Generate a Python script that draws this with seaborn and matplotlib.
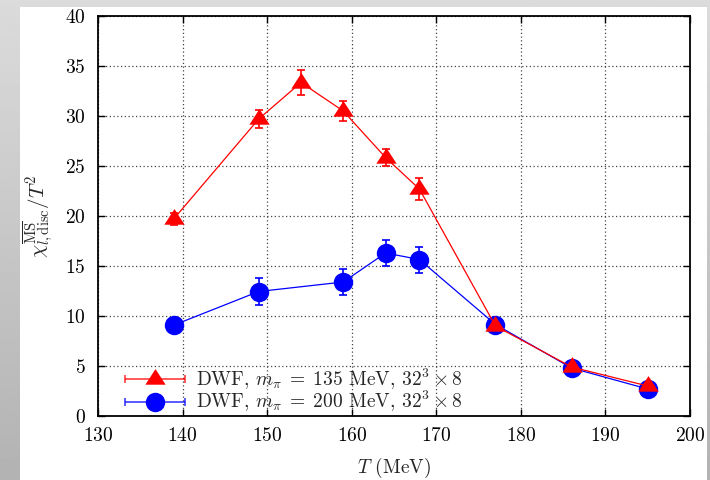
import numpy as np
import pandas as pd
import matplotlib
matplotlib.use("Agg")
import matplotlib.pyplot as plt
from matplotlib.path import Path
from matplotlib.container import ErrorbarContainer
from matplotlib.legend_handler import HandlerErrorbar
from matplotlib.patches import Rectangle
import seaborn as sns

# ---- data ----
T_135 = [139, 149, 154, 159, 164, 168, 177, 186, 195]
chi_135 = [19.75, 29.7, 33.35, 30.5, 25.85, 22.7, 9.0, 4.9, 3.0]
err_135 = [0.6, 0.9, 1.25, 1.0, 0.9, 1.1, 0.3, 0.3, 0.3]

T_200 = [139, 149, 159, 164, 168, 177, 186, 195]
chi_200 = [9.1, 12.45, 13.4, 16.3, 15.65, 9.15, 4.8, 2.7]
err_200 = [0.6, 1.35, 1.3, 1.3, 1.3, 0.4, 0.3, 0.3]

label_135 = r"DWF, $m_\pi\;=\;135$ MeV, $32^3\times8$"
label_200 = r"DWF, $m_\pi\;=\;200$ MeV, $32^3\times8$"
x_ticks = [130, 140, 150, 160, 170, 180, 190, 200]
y_ticks = [0, 5, 10, 15, 20, 25, 30, 35, 40]

df135 = pd.DataFrame({"T": T_135, "chi": chi_135, "err": err_135})
df200 = pd.DataFrame({"T": T_200, "chi": chi_200, "err": err_200})

sns.set_theme(style="ticks")
plt.rcParams["font.family"] = ["cmr10", "DejaVu Serif"]
plt.rcParams["mathtext.fontset"] = "cm"
plt.rcParams["axes.formatter.use_mathtext"] = True

fig = plt.figure(figsize=(7.1, 4.8), dpi=100)

# background frame (grey gradient with white page)
bg = fig.add_axes([0, 0, 1, 1], zorder=-10)
grad = np.linspace(0.86, 0.70, 256).reshape(-1, 1)
bg.imshow(grad, aspect="auto", cmap="gray", vmin=0, vmax=1, extent=[0, 1, 0, 1])
bg.add_patch(Rectangle((20 / 710, 0), (707 - 20) / 710, 473 / 480,
                       facecolor="white", edgecolor="none"))
bg.set_xlim(0, 1)
bg.set_ylim(0, 1)
bg.axis("off")

ax = fig.add_axes([98 / 710, 64 / 480, 592 / 710, 400 / 480])
ax.set_facecolor("white")

tri = Path([(0, 1.0), (-0.975, -0.5), (0.975, -0.5), (0, 1.0)],
           [Path.MOVETO, Path.LINETO, Path.LINETO, Path.CLOSEPOLY])

TRI_MS = 15
CIR_MS = 14

# blue series first (underneath)
sns.lineplot(data=df200, x="T", y="chi", ax=ax, color="blue", linewidth=0.9,
             marker="o", markersize=CIR_MS, markeredgewidth=0, zorder=3)
ax.errorbar(df200["T"], df200["chi"], yerr=df200["err"], fmt="none",
            ecolor="blue", elinewidth=1.2, capsize=3, capthick=1.2, zorder=4)

sns.lineplot(data=df135, x="T", y="chi", ax=ax, color="red", linewidth=0.9,
             marker=tri, markersize=TRI_MS, markeredgewidth=0, zorder=5)
ax.errorbar(df135["T"], df135["chi"], yerr=df135["err"], fmt="none",
            ecolor="red", elinewidth=1.2, capsize=3, capthick=1.2, zorder=6)

# legend proxies (horizontal bars like gnuplot keys)
h135 = ax.errorbar([np.nan], [np.nan], xerr=[1], fmt="none", ecolor=(1, 0, 0, 0.65),
                   elinewidth=1.4, capsize=3, capthick=1.4)
h135m, = ax.plot([np.nan], [np.nan], linestyle="none", marker=tri, markersize=TRI_MS,
                 color="red", markeredgewidth=0)
h200 = ax.errorbar([np.nan], [np.nan], xerr=[1], fmt="none", ecolor=(0, 0, 1, 0.65),
                   elinewidth=1.4, capsize=3, capthick=1.4)
h200m, = ax.plot([np.nan], [np.nan], linestyle="none", marker="o", markersize=CIR_MS,
                 color="blue", markeredgewidth=0)
c135 = ErrorbarContainer((h135m, h135.lines[1], h135.lines[2]), has_xerr=True, has_yerr=False)
c200 = ErrorbarContainer((h200m, h200.lines[1], h200.lines[2]), has_xerr=True, has_yerr=False)

leg = ax.legend([c135, c200], [label_135, label_200], loc="lower left",
                bbox_to_anchor=(0.026, -0.02), frameon=False, fontsize=14,
                handlelength=3.3, handletextpad=0.45, labelspacing=-0.12,
                borderpad=0.0,
                handler_map={ErrorbarContainer: HandlerErrorbar(xerr_size=1.55)})

ax.set_xlim(130, 200)
ax.set_ylim(0, 40)
ax.set_xticks(x_ticks)
ax.set_yticks(y_ticks)
ax.tick_params(direction="in", length=5, width=1.0, top=True, right=True,
               labelsize=14, colors="black")
ax.tick_params(axis="y", pad=9)
ax.tick_params(axis="x", pad=8)
ax.grid(True, linestyle=(0, (1, 2)), color="#444444", linewidth=0.9)
for s in ax.spines.values():
    s.set_linewidth(1.3)
    s.set_color("black")

ax.set_xlabel(r"$T$ (MeV)", fontsize=14, labelpad=8)
ax.set_ylabel(r"$\chi^{\overline{\rm MS}}_{l,{\rm disc}}/T^2$", fontsize=15, labelpad=6)

fig.savefig("out.png", dpi=100)
